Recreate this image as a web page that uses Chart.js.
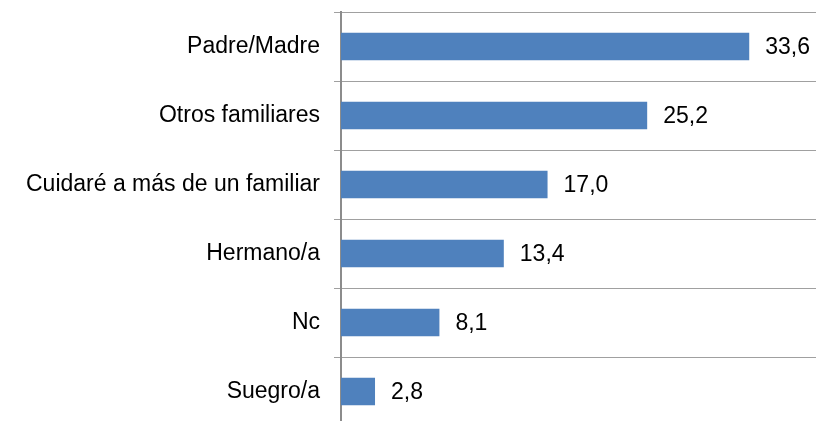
<!DOCTYPE html>
<html>
<head>
<meta charset="utf-8">
<script src="https://cdn.jsdelivr.net/npm/chart.js@4.4.0/dist/chart.umd.min.js"></script>
<style>
  html, body { margin: 0; padding: 0; background: #fff; overflow: hidden; }
  #marco { width: 816px; height: 421px; overflow: hidden; }
  #caja { width: 827px; height: 426px; }
</style>
</head>
<body>
<div id="marco"><div id="caja"><canvas id="grafico"></canvas></div></div>
<script>
var categorias = ['Padre/Madre', 'Otros familiares', 'Cuidaré a más de un familiar', 'Hermano/a', 'Nc', 'Suegro/a'];
var valores = [33.6, 25.2, 17.0, 13.4, 8.1, 2.8];
var ejeMaximo = 40;

var fuente = '"Liberation Sans", Arial, sans-serif';

// etiquetas de valor al final de cada barra, con coma decimal
var etiquetasValor = {
    id: 'etiquetasValor',
    afterDatasetsDraw: function (chart) {
        var ctx = chart.ctx;
        var meta = chart.getDatasetMeta(0);
        ctx.save();
        ctx.font = '23px ' + fuente;
        ctx.fillStyle = '#000';
        ctx.textBaseline = 'middle';
        ctx.textAlign = 'left';
        meta.data.forEach(function (barra, i) {
            var texto = valores[i].toFixed(1).replace('.', ',');
            ctx.fillText(texto, barra.x + 16, barra.y + 1);
        });
        ctx.restore();
    }
};

var ctx = document.getElementById('grafico').getContext('2d');
var myChart = new Chart(ctx, {
    type: 'bar',
    data: {
        labels: categorias,
        datasets: [{
            data: valores,
            backgroundColor: '#4f81bd',
            borderWidth: 0,
            barPercentage: 0.4,
            categoryPercentage: 1
        }]
    },
    options: {
        indexAxis: 'y',
        responsive: true,
        maintainAspectRatio: false,
        animation: false,
        layout: { padding: { top: 12, right: 0, bottom: 0, left: 0 } },
        plugins: {
            legend: { display: false },
            tooltip: { enabled: false }
        },
        scales: {
            x: {
                display: false,
                min: 0,
                max: ejeMaximo
            },
            y: {
                afterFit: function (scale) {
                    scale.width = 341;
                    scale.paddingTop = 0;
                    scale.paddingBottom = 0;
                },
                grid: {
                    offset: true,
                    color: '#a0a0a0',
                    lineWidth: 1,
                    tickLength: 7,
                    drawTicks: true
                },
                border: { display: true, color: '#8c8c8c', width: 2 },
                ticks: {
                    color: '#000',
                    padding: 14,
                    font: { family: fuente, size: 23 }
                }
            }
        }
    },
    plugins: [etiquetasValor]
});
</script>
</body>
</html>
